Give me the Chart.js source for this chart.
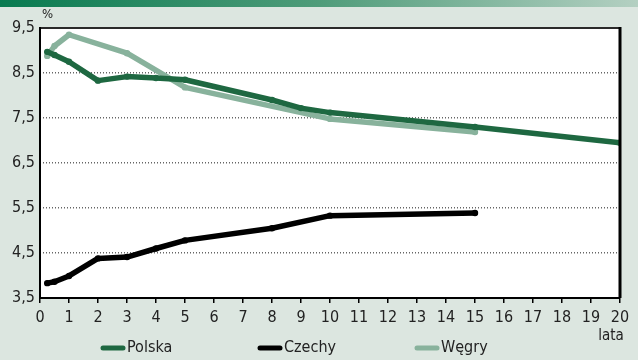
<!DOCTYPE html>
<html>
<head>
<meta charset="utf-8">
<script src="https://cdn.jsdelivr.net/npm/chart.js@4/dist/chart.umd.min.js"></script>
<style>
  body { margin: 0; background: #dce6e0; }
  #wrap { width: 638px; height: 360px; }
</style>
</head>
<body>
<div id="wrap"><canvas id="myChart" width="638" height="360"></canvas></div>
<script>
// dane (lata -> %)
const polskaX = [0.25, 0.5, 1, 2, 3, 4, 5, 8, 9, 10, 15, 20];
const polskaY = [8.97, 8.9, 8.75, 8.33, 8.42, 8.39, 8.35, 7.9, 7.72, 7.62, 7.3, 6.95];
const czechyX = [0.25, 0.5, 1, 2, 3, 4, 5, 8, 10, 15];
const czechyY = [3.83, 3.86, 3.99, 4.38, 4.41, 4.6, 4.78, 5.05, 5.33, 5.39];
const wegryX = [0.25, 0.5, 1, 3, 5, 10, 15];
const wegryY = [8.88, 9.1, 9.35, 8.94, 8.18, 7.48, 7.19];
const seriesNames = ['Polska', 'Czechy', 'Węgry'];
const seriesColors = ['#1e6841', '#000000', '#88b29c'];
const yTicks = [3.5, 4.5, 5.5, 6.5, 7.5, 8.5, 9.5];

const FONT = '"Liberation Sans Narrow", "DejaVu Sans Condensed", "Roboto", sans-serif';

function pts(xs, ys) {
  return xs.map((x, i) => ({ x: x, y: ys[i] }));
}

const framePlugin = {
  id: 'frame',
  beforeDraw(chart) {
    const ctx = chart.ctx;
    const a = chart.chartArea;
    ctx.save();
    // pasek u góry
    const g = ctx.createLinearGradient(0, 0, chart.width, 0);
    g.addColorStop(0, '#087a50');
    g.addColorStop(0.5, '#4f9c7a');
    g.addColorStop(1, '#b4d0c2');
    ctx.fillStyle = g;
    ctx.fillRect(0, 0, chart.width, 7);
    ctx.fillStyle = '#ffffff';
    ctx.fillRect(a.left, a.top, a.right - a.left, a.bottom - a.top);
    ctx.restore();
  },
  afterDraw(chart) {
    const ctx = chart.ctx;
    const a = chart.chartArea;
    ctx.save();
    ctx.strokeStyle = '#2a2a2a';
    ctx.lineWidth = 2;
    ctx.beginPath();
    ctx.moveTo(a.left, a.top);
    ctx.lineTo(a.right, a.top);
    ctx.stroke();
    ctx.strokeStyle = '#000';
    ctx.lineWidth = 3;
    ctx.beginPath();
    ctx.moveTo(a.right, a.top - 1);
    ctx.lineTo(a.right, a.bottom);
    ctx.stroke();
    ctx.lineWidth = 2;
    ctx.beginPath();
    ctx.moveTo(a.left, a.top - 1);
    ctx.lineTo(a.left, a.bottom);
    ctx.stroke();

    ctx.fillStyle = '#222';
    ctx.font = '13px ' + FONT;
    ctx.textAlign = 'left';
    ctx.textBaseline = 'alphabetic';
    ctx.fillText('%', a.left + 2, a.top - 10);
    ctx.font = '15px ' + FONT;
    ctx.textAlign = 'center';
    ctx.fillText('lata', a.right - 9, a.bottom + 42);

    // legenda
    ctx.font = '16px ' + FONT;
    ctx.textAlign = 'left';
    ctx.textBaseline = 'middle';
    ctx.lineCap = 'round';
    ctx.lineWidth = 5;
    chart.data.datasets.forEach((ds, i) => {
      const x0 = 103 + i * 157;
      const y0 = 348;
      ctx.strokeStyle = ds.borderColor;
      ctx.beginPath();
      ctx.moveTo(x0, y0);
      ctx.lineTo(x0 + 20, y0);
      ctx.stroke();
      ctx.fillStyle = '#222';
      ctx.fillText(ds.label, x0 + 24, y0);
    });
    ctx.restore();
  }
};

const ctx = document.getElementById('myChart');

new Chart(ctx, {
  type: 'line',
  data: {
    datasets: [
      { label: seriesNames[0], data: pts(polskaX, polskaY), borderColor: seriesColors[0], backgroundColor: seriesColors[0] },
      { label: seriesNames[1], data: pts(czechyX, czechyY), borderColor: seriesColors[1], backgroundColor: seriesColors[1] },
      { label: seriesNames[2], data: pts(wegryX, wegryY), borderColor: seriesColors[2], backgroundColor: seriesColors[2] }
    ]
  },
  options: {
    responsive: false,
    animation: false,
    layout: { padding: { top: 28, right: 18, left: 0, bottom: 0 } },
    elements: {
      line: { borderWidth: 5.5, tension: 0, borderJoinStyle: 'round', borderCapStyle: 'round' },
      point: { radius: 3.2, hoverRadius: 3.2, borderWidth: 0 }
    },
    plugins: {
      legend: { display: false },
      tooltip: { enabled: false }
    },
    scales: {
      x: {
        type: 'linear',
        min: 0,
        max: 20,
        afterFit(scale) { scale.height = 62; },
        ticks: {
          stepSize: 1,
          color: '#222',
          padding: 5,
          font: { family: FONT, size: 16 }
        },
        grid: { drawOnChartArea: false, drawTicks: true, tickLength: 5, color: '#000', lineWidth: 1.5 },
        border: { display: true, color: '#000', width: 2 }
      },
      y: {
        min: 3.5,
        max: 9.5,
        afterFit(scale) { scale.width = 40; },
        afterBuildTicks(scale) { scale.ticks = yTicks.map(v => ({ value: v })); },
        ticks: {
          color: '#222',
          padding: 5,
          font: { family: FONT, size: 16 },
          callback: v => v.toFixed(1).replace('.', ',')
        },
        grid: { drawTicks: false, color: '#666', lineWidth: 1.5 },
        border: { display: false, dash: [1, 2] }
      }
    }
  },
  plugins: [framePlugin]
});
</script>
</body>
</html>
